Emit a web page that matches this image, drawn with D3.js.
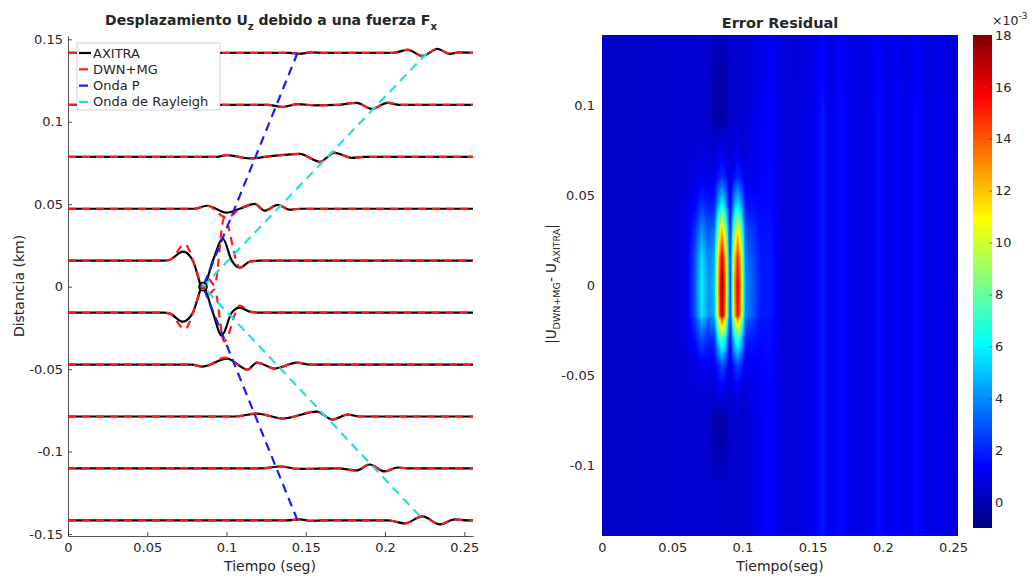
<!DOCTYPE html>
<html>
<head>
<meta charset="utf-8">
<script src="https://d3js.org/d3.v7.min.js"></script>
<style>
body { margin: 0; background: #fff; }
svg text { font-family: "DejaVu Sans", sans-serif; fill: #262626; }
.axis path, .axis line { stroke: #262626; stroke-width: 0.8; }
.axis text { font-size: 13px; }
</style>
</head>
<body>
<div id="chart"></div>
<script>

// ---- data ----
var stations = [0.14175, 0.11025, 0.07875, 0.04725, 0.01575, -0.01575, -0.04725, -0.07875, -0.11025, -0.14175];

// [tiempo, desplazamiento] key points of each trace, top station first
var axitraTraces = [
  [[0,0],[0.140,0],[0.146,-0.0006],[0.153,0.0003],[0.162,0],[0.205,0],[0.2142,0.0018],[0.2237,-0.0018],[0.2331,0.0024],[0.2407,-0.0006],[0.247,0.0003],[0.2555,0]],
  [[0,0],[0.126,0],[0.1355,-0.0012],[0.145,0.0004],[0.156,-0.0003],[0.170,0],[0.1821,0.0012],[0.1916,-0.0024],[0.2016,0.0012],[0.2092,0],[0.2555,0]],
  [[0,0],[0.094,0],[0.1002,0.0010],[0.1147,-0.0010],[0.128,0.0004],[0.1462,0.0018],[0.1588,-0.0030],[0.1682,0.0024],[0.1790,-0.0006],[0.1871,0],[0.2555,0]],
  [[0,0],[0.080,0],[0.0876,0.0018],[0.1002,-0.0024],[0.1084,0],[0.1178,0.0030],[0.1241,-0.0012],[0.1323,0.0024],[0.1399,-0.0006],[0.1462,0],[0.2555,0]],
  [[0,0],[0.060,0],[0.0643,0.0006],[0.0725,0.0055],[0.0788,0],[0.0851,-0.0164],[0.0914,0],[0.0977,0.0133],[0.1033,0],[0.1084,-0.0042],[0.1147,-0.0006],[0.121,0],[0.2555,0]],
  [[0,0],[0.060,0],[0.0643,-0.0006],[0.0725,-0.0055],[0.0788,0],[0.0851,0.0158],[0.0914,0],[0.0970,-0.0139],[0.1033,0],[0.1084,0.0030],[0.1147,0.0006],[0.121,0],[0.2555,0]],
  [[0,0],[0.078,0],[0.0851,-0.0012],[0.1002,0.0036],[0.1134,-0.0030],[0.1191,0.0012],[0.1304,-0.0024],[0.1443,0.0012],[0.1525,0],[0.2555,0]],
  [[0,0],[0.105,0],[0.1191,0.0018],[0.1355,-0.0012],[0.1569,0.0030],[0.1670,-0.0018],[0.1764,0.0012],[0.1840,0],[0.2555,0]],
  [[0,0],[0.122,0],[0.1336,0.0012],[0.146,-0.0003],[0.170,0],[0.1821,-0.0012],[0.1903,0.0024],[0.1997,-0.0018],[0.2079,0.0006],[0.2155,0],[0.2555,0]],
  [[0,0],[0.138,0],[0.1462,0.0006],[0.153,-0.0002],[0.162,0],[0.202,0],[0.2124,-0.0018],[0.2237,0.0024],[0.2344,-0.0024],[0.2439,0.0006],[0.2521,0],[0.2555,0]]
];

var dwnTraces = [
  [[0,0],[0.140,0],[0.146,-0.0005],[0.153,0.0004],[0.162,0],[0.205,0],[0.2142,0.0020],[0.2237,-0.0020],[0.2331,0.0025],[0.2407,-0.0005],[0.247,0.0003],[0.2555,0]],
  [[0,0],[0.126,0],[0.1355,-0.0013],[0.145,0.0004],[0.156,-0.0003],[0.170,0],[0.1821,0.0013],[0.1916,-0.0026],[0.2016,0.0013],[0.2092,0],[0.2555,0]],
  [[0,0],[0.094,0],[0.1002,0.0012],[0.1147,-0.0010],[0.128,0.0004],[0.1462,0.0018],[0.1588,-0.0033],[0.1682,0.0026],[0.1790,-0.0006],[0.1871,0],[0.2555,0]],
  [[0,0],[0.080,0],[0.0876,0.0020],[0.1002,-0.0055],[0.1084,0],[0.1178,0.0030],[0.1241,-0.0014],[0.1323,0.0025],[0.1399,-0.0006],[0.1462,0],[0.2555,0]],
  [[0,0],[0.060,0],[0.0643,0.0006],[0.0737,0.0100],[0.0807,-0.0050],[0.0851,-0.0160],[0.0885,-0.0110],[0.0925,-0.0150],[0.0985,0.0260],[0.1084,-0.0042],[0.1147,-0.0006],[0.121,0],[0.2555,0]],
  [[0,0],[0.060,0],[0.0643,-0.0006],[0.0737,-0.0100],[0.0807,0.0050],[0.0851,0.0160],[0.0885,0.0110],[0.0925,0.0140],[0.0985,-0.0175],[0.1084,0.0042],[0.1147,0.0006],[0.121,0],[0.2555,0]],
  [[0,0],[0.078,0],[0.0851,-0.0015],[0.0990,0.0042],[0.1134,-0.0032],[0.1191,0.0012],[0.1304,-0.0025],[0.1443,0.0012],[0.1525,0],[0.2555,0]],
  [[0,0],[0.105,0],[0.1191,0.0019],[0.1355,-0.0013],[0.1569,0.0032],[0.1670,-0.0019],[0.1764,0.0012],[0.1840,0],[0.2555,0]],
  [[0,0],[0.122,0],[0.1336,0.0013],[0.146,-0.0003],[0.170,0],[0.1821,-0.0013],[0.1903,0.0026],[0.1997,-0.0019],[0.2079,0.0006],[0.2155,0],[0.2555,0]],
  [[0,0],[0.138,0],[0.1462,0.0006],[0.153,-0.0002],[0.162,0],[0.202,0],[0.2124,-0.0020],[0.2237,0.0026],[0.2344,-0.0025],[0.2439,0.0006],[0.2521,0],[0.2555,0]]
];

var pWave = [[0.1448, 0.14175], [0.0852, 0], [0.1448, -0.14175]];
var rayleighWave = [[0.2265, 0.14175], [0.0852, 0], [0.2245, -0.14175]];
var sourcePoint = [0.0852, 0];

var legendItems = ["AXITRA", "DWN+MG", "Onda P", "Onda de Rayleigh"];
var xTicks = [0, 0.05, 0.1, 0.15, 0.2, 0.25];
var yTicksLeft = [-0.15, -0.1, -0.05, 0, 0.05, 0.1, 0.15];
var yTicksRight = [-0.1, -0.05, 0, 0.05, 0.1];
var cbTicks = [0, 2, 4, 6, 8, 10, 12, 14, 16, 18];

// residual error grid (x 1e-3), rows = distancia (top to bottom), cols = tiempo
var errTimes = [0, 0.03, 0.05, 0.06, 0.066, 0.071, 0.076, 0.080, 0.083, 0.0855, 0.088, 0.0912, 0.094, 0.0966, 0.0992, 0.102,
  0.1075, 0.113, 0.12, 0.128, 0.14, 0.15, 0.157, 0.163, 0.17, 0.18, 0.19, 0.197, 0.203, 0.21, 0.217, 0.224, 0.232, 0.24, 0.25, 0.256];
var errDist = [0.14, 0.115, 0.095, 0.075, 0.06, 0.045, 0.03, 0.015, 0, -0.017, -0.019, -0.03, -0.045, -0.06, -0.075, -0.095, -0.115, -0.14];
var errValues = [
  [0.4,0.4,0.5,0.5, 0.5,0.5,0.5,0.3,0.2,0.2,0.3,0.5,0.5,0.5,0.5,0.5, 0.8,1.0,1.2,0.7,0.6,0.9,1.5,0.8,1.4,0.8,0.9,1.4,0.9,1.2,0.8,1.3,0.7,1.0,0.6,0.5],
  [0.4,0.4,0.5,0.5, 0.5,0.5,0.4,-0.1,-0.3,-0.3,-0.1,0.4,0.5,0.5,0.5,0.5, 0.8,1.0,1.2,0.7,0.6,0.9,1.5,0.8,1.4,0.8,0.9,1.4,0.9,1.2,0.8,1.3,0.7,1.0,0.6,0.5],
  [0.4,0.4,0.5,0.5, 0.5,0.5,0.4,-0.2,-0.4,-0.4,-0.2,0.4,0.5,0.5,0.5,0.5, 0.9,1.2,1.4,0.8,0.7,1.0,1.8,0.9,1.6,0.9,1.0,1.6,1.0,1.4,0.9,1.5,0.8,1.1,0.7,0.6],
  [0.4,0.4,0.5,0.6, 0.6,0.7,0.6,0.6,0.9,1.0,0.9,0.5,0.8,1.0,0.8,0.6, 1.0,1.2,1.4,0.8,0.7,1.0,1.8,0.9,1.6,0.9,1.0,1.6,1.0,1.4,0.9,1.5,0.8,1.1,0.7,0.6],
  [0.4,0.4,0.5,0.6, 0.8,1.1,0.9,1.0,1.8,2.3,1.8,0.7,1.7,2.1,1.7,0.9, 1.1,1.3,1.5,0.8,0.7,1.0,1.8,0.9,1.6,0.9,1.0,1.6,1.0,1.4,0.9,1.5,0.8,1.1,0.7,0.6],
  [0.4,0.4,0.5,0.7, 1.3,2.3,1.7,2.0,4.6,6.3,4.6,1.0,4.3,5.8,4.3,1.7, 1.6,1.4,1.5,0.8,0.7,1.0,1.8,0.9,1.6,0.9,1.0,1.6,1.0,1.4,0.9,1.5,0.8,1.1,0.7,0.6],
  [0.4,0.4,0.5,0.7, 2.2,4.2,2.9,3.6,9.0,12.4,9.0,1.5,8.3,11.4,8.3,2.9, 2.3,1.6,1.7,0.8,0.7,1.0,1.8,0.9,1.6,0.9,1.0,1.6,1.0,1.4,0.9,1.5,0.8,1.1,0.7,0.6],
  [0.4,0.4,0.5,0.7, 2.8,5.6,3.7,4.6,12.0,16.6,12.0,1.9,11.1,15.2,11.1,3.7, 2.8,1.8,1.8,0.8,0.7,1.0,1.8,0.9,1.6,0.9,1.0,1.6,1.0,1.4,0.9,1.5,0.8,1.1,0.7,0.6],
  [0.4,0.4,0.5,0.7, 3.0,6.0,4.0,5.0,13.0,18.0,13.0,2.0,12.0,16.5,12.0,4.0, 3.0,1.8,1.8,0.8,0.7,1.0,1.8,0.9,1.6,0.9,1.0,1.6,1.0,1.4,0.9,1.5,0.8,1.1,0.7,0.6],
  [0.4,0.4,0.5,0.7, 2.9,5.8,3.9,4.8,12.5,17.3,12.5,1.9,11.5,15.9,11.5,3.9, 2.9,1.8,1.8,0.8,0.7,1.0,1.8,0.9,1.6,0.9,1.0,1.6,1.0,1.4,0.9,1.5,0.8,1.1,0.7,0.6],
  [0.4,0.4,0.5,0.7, 2.5,4.8,3.2,4.0,10.3,14.2,10.3,1.7,9.5,13.0,9.5,3.2, 2.5,1.7,1.7,0.8,0.7,1.0,1.8,0.9,1.6,0.9,1.0,1.6,1.0,1.4,0.9,1.5,0.8,1.1,0.7,0.6],
  [0.4,0.4,0.5,0.7, 1.6,2.9,2.0,2.4,5.9,8.0,5.9,1.2,5.5,7.4,5.5,2.0, 1.8,1.5,1.6,0.8,0.7,1.0,1.8,0.9,1.6,0.9,1.0,1.6,1.0,1.4,0.9,1.5,0.8,1.1,0.7,0.6],
  [0.4,0.4,0.5,0.6, 0.8,1.2,1.0,1.1,2.1,2.8,2.1,0.7,2.0,2.6,2.0,1.0, 1.2,1.3,1.5,0.8,0.7,1.0,1.8,0.9,1.6,0.9,1.0,1.6,1.0,1.4,0.9,1.5,0.8,1.1,0.7,0.6],
  [0.4,0.4,0.5,0.6, 0.6,0.7,0.6,0.6,0.9,1.0,0.9,0.5,0.8,1.0,0.8,0.6, 1.0,1.2,1.4,0.8,0.7,1.0,1.8,0.9,1.6,0.9,1.0,1.6,1.0,1.4,0.9,1.5,0.8,1.1,0.7,0.6],
  [0.4,0.4,0.5,0.5, 0.5,0.5,0.4,-0.2,-0.4,-0.4,-0.2,0.4,0.5,0.5,0.5,0.5, 0.9,1.2,1.4,0.8,0.7,1.0,1.8,0.9,1.6,0.9,1.0,1.6,1.0,1.4,0.9,1.5,0.8,1.1,0.7,0.6],
  [0.4,0.4,0.5,0.5, 0.5,0.5,0.5,0.1,-0.1,-0.1,0.1,0.5,0.5,0.5,0.5,0.5, 0.9,1.2,1.4,0.8,0.7,1.0,1.8,0.9,1.6,0.9,1.0,1.6,1.0,1.4,0.9,1.5,0.8,1.1,0.7,0.6],
  [0.4,0.4,0.5,0.5, 0.5,0.5,0.5,0.5,0.5,0.5,0.5,0.5,0.5,0.5,0.5,0.5, 0.9,1.2,1.4,0.8,0.7,1.0,1.8,0.9,1.6,0.9,1.0,1.6,1.0,1.4,0.9,1.5,0.8,1.1,0.7,0.6],
  [0.4,0.4,0.5,0.5, 0.5,0.5,0.5,0.4,0.4,0.4,0.4,0.5,0.5,0.5,0.5,0.5, 0.9,1.2,1.4,0.8,0.7,1.0,1.8,0.9,1.6,0.9,1.0,1.6,1.0,1.4,0.9,1.5,0.8,1.1,0.7,0.6]
];

// ---- chart ----
var svg = d3.select("#chart").append("svg")
  .attr("width", 1034).attr("height", 580);

var fmt = function(d) { return String(d); };

// left panel
var xL = d3.scaleLinear().domain([0, 0.2555]).range([68, 473]);
var yL = d3.scaleLinear().domain([-0.1512, 0.152]).range([536, 36]);

svg.append("g").attr("class", "axis")
  .attr("transform", "translate(0,536)")
  .call(d3.axisBottom(xL).tickValues(xTicks).tickFormat(fmt).tickSizeInner(-4).tickSizeOuter(0).tickPadding(7));
svg.append("g").attr("class", "axis")
  .attr("transform", "translate(68,0)")
  .call(d3.axisLeft(yL).tickValues(yTicksLeft).tickFormat(fmt).tickSizeInner(-4).tickSizeOuter(0).tickPadding(5));

var traceLine = function(st) {
  return d3.line()
    .x(function(d) { return xL(d[0]); })
    .y(function(d) { return yL(st + d[1]); })
    .curve(d3.curveMonotoneX);
};

svg.append("g").selectAll("path")
  .data(axitraTraces).enter().append("path")
  .attr("d", function(d, i) { return traceLine(stations[i])(d); })
  .attr("fill", "none").attr("stroke", "#000").attr("stroke-width", 2.2);

svg.append("g").selectAll("path")
  .data(dwnTraces).enter().append("path")
  .attr("d", function(d, i) { return traceLine(stations[i])(d); })
  .attr("fill", "none").attr("stroke", "#ff1a1a").attr("stroke-width", 2.2)
  .attr("stroke-dasharray", "8,6");

var waveLine = d3.line().x(function(d) { return xL(d[0]); }).y(function(d) { return yL(d[1]); });

svg.append("path").attr("d", waveLine(pWave))
  .attr("fill", "none").attr("stroke", "#1a1aff").attr("stroke-width", 2.2).attr("stroke-dasharray", "9,6");
svg.append("path").attr("d", waveLine(rayleighWave))
  .attr("fill", "none").attr("stroke", "#22e0dc").attr("stroke-width", 2.2).attr("stroke-dasharray", "9,6");

svg.append("circle")
  .attr("cx", xL(sourcePoint[0])).attr("cy", yL(sourcePoint[1])).attr("r", 4)
  .attr("fill", "none").attr("stroke", "#000").attr("stroke-width", 1.6);

// legend
var legendColors = ["#000", "#ff1a1a", "#1a1aff", "#22e0dc"];
var legend = svg.append("g");
legend.append("rect").attr("x", 77).attr("y", 43).attr("width", 143).attr("height", 67)
  .attr("fill", "#fff").attr("stroke", "#c8c8c8").attr("stroke-width", 0.8);
legendItems.forEach(function(name, i) {
  var yy = 53 + i * 16.3;
  legend.append("line").attr("x1", 79).attr("x2", i === 0 ? 91 : 88).attr("y1", yy).attr("y2", yy)
    .attr("stroke", legendColors[i]).attr("stroke-width", 2.2);
  legend.append("text").attr("x", 93).attr("y", yy).attr("dy", "0.35em")
    .style("font-size", "13px").text(name);
});

// titles and labels, left
var t1 = svg.append("text").attr("x", 271).attr("y", 25).attr("text-anchor", "middle")
  .style("font-size", "14px").style("font-weight", "bold");
t1.append("tspan").text("Desplazamiento U");
t1.append("tspan").attr("dy", 5).style("font-size", "10px").text("z");
t1.append("tspan").attr("dy", -5).text(" debido a una fuerza F");
t1.append("tspan").attr("dy", 5).style("font-size", "10px").text("x");

svg.append("text").attr("x", 270).attr("y", 571).attr("text-anchor", "middle")
  .style("font-size", "14px").text("Tiempo (seg)");
svg.append("text").attr("transform", "translate(24,286) rotate(-90)").attr("text-anchor", "middle")
  .style("font-size", "14px").text("Distancia (km)");

// right panel
var xR = d3.scaleLinear().domain([0, 0.2535]).range([602, 958]);
var yR = d3.scaleLinear().domain([-0.1395, 0.139]).range([536, 35]);
var jet = d3.scaleLinear()
  .domain([-1, 1.375, 6.125, 10.875, 15.625, 18])
  .range(["#000080", "#0000ff", "#00ffff", "#ffff00", "#ff0000", "#800000"])
  .clamp(true);

var pw = Math.round(xR.range()[1] - xR.range()[0]);
var ph = Math.round(yR.range()[0] - yR.range()[1]);
var canvas = document.createElement("canvas");
canvas.width = pw; canvas.height = ph;
var ctx = canvas.getContext("2d");
var img = ctx.createImageData(pw, ph);

var distAsc = errDist.slice().reverse();
var valsAsc = errValues.slice().reverse();
function locate(arr, v) {
  var i = d3.bisectRight(arr, v) - 1;
  i = Math.max(0, Math.min(arr.length - 2, i));
  var f = (v - arr[i]) / (arr[i + 1] - arr[i]);
  return [i, Math.max(0, Math.min(1, f))];
}
for (var py = 0; py < ph; py++) {
  var ly = locate(distAsc, yR.invert(yR.range()[1] + py + 0.5));
  var r0 = valsAsc[ly[0]], r1 = valsAsc[ly[0] + 1], fy = ly[1];
  for (var px = 0; px < pw; px++) {
    var lx = locate(errTimes, xR.invert(xR.range()[0] + px + 0.5));
    var i = lx[0], fx = lx[1];
    var v0 = r0[i] * (1 - fx) + r0[i + 1] * fx;
    var v1 = r1[i] * (1 - fx) + r1[i + 1] * fx;
    var c = d3.rgb(jet(v0 * (1 - fy) + v1 * fy));
    var k = (py * pw + px) * 4;
    img.data[k] = c.r; img.data[k + 1] = c.g; img.data[k + 2] = c.b; img.data[k + 3] = 255;
  }
}
ctx.putImageData(img, 0, 0);
svg.append("image")
  .attr("x", xR.range()[0]).attr("y", yR.range()[1])
  .attr("width", pw).attr("height", ph)
  .attr("preserveAspectRatio", "none")
  .attr("href", canvas.toDataURL());

var axR1 = svg.append("g").attr("class", "axis")
  .attr("transform", "translate(0,536)")
  .call(d3.axisBottom(xR).tickValues(xTicks).tickFormat(fmt).tickSize(0).tickPadding(7));
var axR2 = svg.append("g").attr("class", "axis")
  .attr("transform", "translate(602,0)")
  .call(d3.axisLeft(yR).tickValues(yTicksRight).tickFormat(fmt).tickSize(0).tickPadding(7));
axR1.select(".domain").remove();
axR2.select(".domain").remove();

svg.append("text").attr("x", 780).attr("y", 28).attr("text-anchor", "middle")
  .style("font-size", "14.5px").style("font-weight", "bold").text("Error Residual");
svg.append("text").attr("x", 780).attr("y", 571).attr("text-anchor", "middle")
  .style("font-size", "14px").text("Tiempo(seg)");

var yl = svg.append("text").attr("transform", "translate(556,284) rotate(-90)").attr("text-anchor", "middle")
  .style("font-size", "13.5px");
yl.append("tspan").text("|U");
yl.append("tspan").attr("dy", 4).style("font-size", "9.5px").text("DWN+MG");
yl.append("tspan").attr("dy", -4).text("- U");
yl.append("tspan").attr("dy", 4).style("font-size", "9.5px").text("AXITRA");
yl.append("tspan").attr("dy", -4).text("|");

// colorbar
var cbY = d3.scaleLinear().domain([-1, 18]).range([528, 35]);
var grad = svg.append("defs").append("linearGradient").attr("id", "jetGrad")
  .attr("x1", 0).attr("y1", 1).attr("x2", 0).attr("y2", 0);
jet.domain().forEach(function(v) {
  grad.append("stop").attr("offset", (v + 1) / 19).attr("stop-color", jet(v));
});
svg.append("rect").attr("x", 973).attr("y", cbY(18)).attr("width", 19).attr("height", cbY(-1) - cbY(18))
  .attr("fill", "url(#jetGrad)");
var cbAxis = svg.append("g").attr("class", "axis")
  .attr("transform", "translate(992,0)")
  .call(d3.axisRight(cbY).tickValues(cbTicks).tickFormat(fmt).tickSizeInner(-3).tickSizeOuter(0).tickPadding(3));
cbAxis.select(".domain").remove();
cbAxis.selectAll("line").attr("stroke", "#262626").attr("stroke-opacity", 0.6);

var ex = svg.append("text").attr("x", 992).attr("y", 25).style("font-size", "12.5px");
ex.append("tspan").text("\u00d710");
ex.append("tspan").attr("dy", -6).style("font-size", "9px").text("-3");

</script>
</body>
</html>
